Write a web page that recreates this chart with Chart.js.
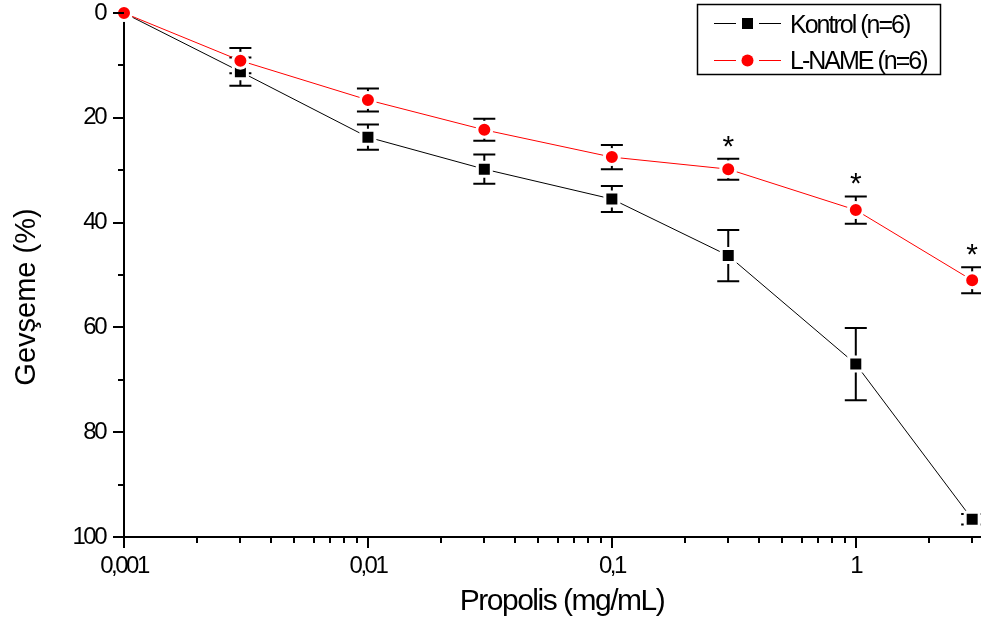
<!DOCTYPE html>
<html>
<head>
<meta charset="utf-8">
<script src="https://cdn.jsdelivr.net/npm/chart.js@4"></script>
<style>
  html, body { margin: 0; padding: 0; background: #fff; }
</style>
</head>
<body>
<canvas id="c" width="981" height="624"></canvas>
<script>
// Propolis dose (mg/mL) and relaxation (%), mean and error
const doses = [0.001, 0.003, 0.01, 0.03, 0.1, 0.3, 1, 3];
const kontrol = [0, 11.2, 23.7, 29.8, 35.5, 46.3, 67.0, 96.6];
const kontrolErr = [0, 2.7, 2.4, 2.8, 2.5, 4.9, 6.9, 1.0];
const lname = [0, 9.1, 16.6, 22.3, 27.5, 29.8, 37.6, 51.0];
const lnameErr = [0, 2.4, 2.2, 2.1, 2.3, 2.0, 2.6, 2.5];
const lnameSig = [false, false, false, false, false, true, true, true];

const xLabelVals = [0.001, 0.01, 0.1, 1];
const xLabels = ["0,001", "0,01", "0,1", "1"];
const yLabelVals = [0, 20, 40, 60, 80, 100];
const yMinorVals = [10, 30, 50, 70, 90];

const FONT = "'Liberation Sans', Arial, sans-serif";

// error bars under the markers
const errorBars = {
  id: "errorBars",
  beforeDatasetsDraw(chart) {
    const { ctx, scales: { x, y } } = chart;
    ctx.save();
    ctx.strokeStyle = "#000";
    ctx.lineWidth = 2;
    chart.data.datasets.forEach(ds => {
      ds.data.forEach((p, i) => {
        const e = ds.err[i];
        if (!e) return;
        const px = x.getPixelForValue(p.x);
        const y1 = y.getPixelForValue(p.y - e);
        const y2 = y.getPixelForValue(p.y + e);
        ctx.beginPath();
        ctx.moveTo(px, y1); ctx.lineTo(px, y2);
        ctx.moveTo(px - 11, y1); ctx.lineTo(px + 11, y1);
        ctx.moveTo(px - 11, y2); ctx.lineTo(px + 11, y2);
        ctx.stroke();
      });
    });
    ctx.restore();
  }
};

// ticks, asterisks, titles, legend
const decorations = {
  id: "decorations",
  beforeDraw(chart) {
    chart.ctx.letterSpacing = "-2.5px";
  },
  afterDraw(chart) {
    const { ctx, chartArea: area, scales: { x, y } } = chart;
    ctx.save();
    ctx.strokeStyle = "#000";
    ctx.lineWidth = 2;
    // x ticks, major and minor
    ctx.beginPath();
    for (let e = -3; e <= 0; e++) {
      for (let m = 1; m <= 9; m++) {
        const v = m * Math.pow(10, e);
        if (v > x.max) break;
        const px = Math.round(x.getPixelForValue(v));
        ctx.moveTo(px, area.bottom);
        ctx.lineTo(px, area.bottom + (m === 1 ? 11 : 6));
      }
    }
    yLabelVals.forEach(v => {
      const py = Math.round(y.getPixelForValue(v));
      ctx.moveTo(area.left - 11, py); ctx.lineTo(area.left, py);
    });
    yMinorVals.forEach(v => {
      const py = Math.round(y.getPixelForValue(v));
      ctx.moveTo(area.left - 6, py); ctx.lineTo(area.left, py);
    });
    ctx.stroke();

    // significance marks
    ctx.fillStyle = "#000";
    ctx.letterSpacing = "0px";
    ctx.font = "30px " + FONT;
    ctx.textAlign = "center";
    ctx.textBaseline = "alphabetic";
    lnameSig.forEach((s, i) => {
      if (!s) return;
      const px = x.getPixelForValue(doses[i]);
      const py = y.getPixelForValue(lname[i] - lnameErr[i]);
      ctx.fillText("*", px, py - 3);
    });

    // axis titles
    ctx.textBaseline = "middle";
    ctx.letterSpacing = "-1.5px";
    ctx.font = "30px " + FONT;
    ctx.fillText("Propolis (mg/mL)", 562, 602);
    ctx.save();
    ctx.translate(27, 297);
    ctx.rotate(-Math.PI / 2);
    ctx.letterSpacing = "0px";
    ctx.font = "29px " + FONT;
    ctx.fillText("Gevşeme (%)", 0, 0);
    ctx.restore();

    // legend box
    ctx.fillStyle = "#fff";
    ctx.fillRect(697, 4, 244, 71);
    ctx.lineWidth = 1.5;
    ctx.strokeRect(697.5, 4.5, 243, 70);
    const rows = [
      { ds: chart.data.datasets[0], y: 23, base: 33 },
      { ds: chart.data.datasets[1], y: 60, base: 69 }
    ];
    rows.forEach(r => {
      ctx.strokeStyle = r.ds.borderColor;
      ctx.lineWidth = 1;
      ctx.beginPath();
      ctx.moveTo(714, r.y + 0.5); ctx.lineTo(736, r.y + 0.5);
      ctx.moveTo(759, r.y + 0.5); ctx.lineTo(781, r.y + 0.5);
      ctx.stroke();
      ctx.fillStyle = r.ds.pointBackgroundColor;
      if (r.ds.pointStyle === "rect") {
        ctx.fillRect(742, r.y - 5, 11, 11);
      } else {
        ctx.beginPath();
        ctx.arc(747.5, r.y + 0.5, 6, 0, Math.PI * 2);
        ctx.fill();
      }
      ctx.fillStyle = "#000";
      ctx.textAlign = "left";
      ctx.textBaseline = "alphabetic";
      ctx.letterSpacing = "-2px";
      ctx.font = "25px " + FONT;
      ctx.fillText(r.ds.label, 790, r.base);
    });
    ctx.restore();
    ctx.letterSpacing = "-2.5px";
  }
};

new Chart(document.getElementById("c"), {
  type: "line",
  data: {
    datasets: [
      {
        label: "Kontrol (n=6)",
        data: doses.map((d, i) => ({ x: d, y: kontrol[i] })),
        err: kontrolErr,
        borderColor: "#000",
        borderWidth: 1,
        pointStyle: "rect",
        pointRadius: 9.9,
        pointBackgroundColor: "#000",
        pointBorderColor: "#fff",
        pointBorderWidth: 3,
        clip: false,
        order: 2
      },
      {
        label: "L-NAME (n=6)",
        data: doses.map((d, i) => ({ x: d, y: lname[i] })),
        err: lnameErr,
        borderColor: "#ff0000",
        borderWidth: 1,
        pointStyle: "circle",
        pointRadius: 7.5,
        pointBackgroundColor: "#ff0000",
        pointBorderColor: "#fff",
        pointBorderWidth: 3,
        clip: false,
        order: 1
      }
    ]
  },
  options: {
    responsive: false,
    animation: false,
    layout: { autoPadding: false, padding: { top: 13, right: 1, left: 0, bottom: 0 } },
    plugins: { legend: { display: false }, tooltip: { enabled: false } },
    scales: {
      x: {
        type: "logarithmic",
        min: 0.001,
        max: 3.23,
        afterBuildTicks: s => { s.ticks = xLabelVals.map(v => ({ value: v })); },
        afterFit: s => { s.height = 87; s.paddingLeft = 0; s.paddingRight = 0; },
        grid: { display: false, drawTicks: false },
        border: { display: true, color: "#000", width: 2 },
        ticks: {
          autoSkip: false,
          maxRotation: 0,
          padding: 17,
          color: "#000",
          font: { family: FONT, size: 24, lineHeight: 1 },
          callback: (v, i) => xLabels[i]
        }
      },
      y: {
        reverse: true,
        min: 0,
        max: 100,
        afterBuildTicks: s => { s.ticks = yLabelVals.map(v => ({ value: v })); },
        afterFit: s => { s.width = 124; s.paddingTop = 0; s.paddingBottom = 0; },
        grid: { display: false, drawTicks: false },
        border: { display: true, color: "#000", width: 2 },
        ticks: {
          padding: 19,
          color: "#000",
          font: { family: FONT, size: 24, lineHeight: 1 },
          callback: v => String(v)
        }
      }
    }
  },
  plugins: [errorBars, decorations]
});
</script>
</body>
</html>
